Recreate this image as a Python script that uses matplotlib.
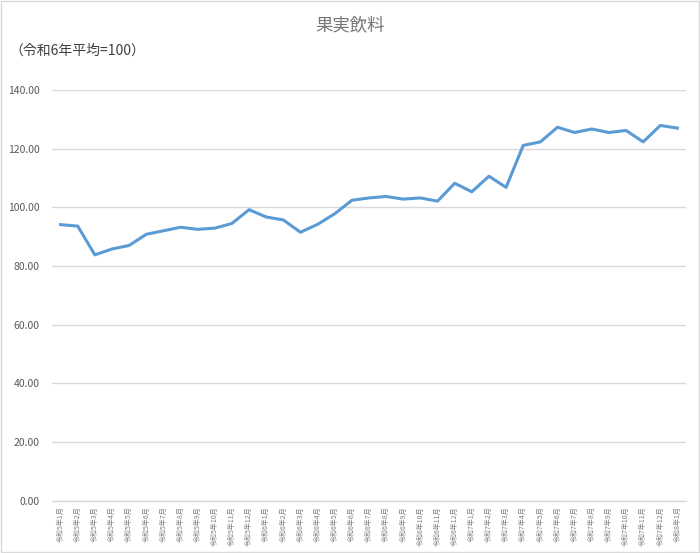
import matplotlib
matplotlib.use("Agg")
import matplotlib.pyplot as plt
from matplotlib.patches import Rectangle

plt.rcParams['font.family'] = ['Noto Sans CJK JP', 'DejaVu Sans']

# 月ラベル（令和5年1月〜令和8年1月）
months = (["令和5年%d月" % m for m in range(1, 13)]
          + ["令和6年%d月" % m for m in range(1, 13)]
          + ["令和7年%d月" % m for m in range(1, 13)]
          + ["令和8年1月"])

values = [94.1, 93.6, 83.8, 85.8, 87.0, 90.8, 92.0, 93.2, 92.5, 92.9, 94.5, 99.2,
          96.7, 95.7, 91.5, 94.2, 97.8, 102.4, 103.2, 103.7, 102.8, 103.2, 102.1, 108.2,
          105.3, 110.6, 106.8, 121.1, 122.3, 127.3, 125.5, 126.7, 125.5, 126.2, 122.3, 127.9,
          127.0]

yticks = [0, 20, 40, 60, 80, 100, 120, 140]

fig = plt.figure(figsize=(7, 5.53), dpi=100)
ax = fig.add_axes([0.0743, 0.0946, 0.9057, 0.7427])

x = list(range(len(months)))
ax.plot(x, values, color='#5B9BD5', linewidth=2.2, solid_joinstyle='round', zorder=3)

ax.set_xlim(-0.5, len(months) - 0.5)
ax.set_ylim(0, 140)
ax.set_yticks(yticks)
ax.set_yticklabels(["%.2f" % v for v in yticks], fontsize=7.5, color='#595959')
ax.set_xticks(x)
ax.set_xticklabels(months, rotation=90, fontsize=5, color='#7F7F7F', va='top', ha='center')
ax.tick_params(axis='both', length=0, pad=4)
ax.tick_params(axis='y', pad=9)

ax.grid(axis='y', color='#D9D9D9', linewidth=1)
ax.set_axisbelow(True)
for s in ['top', 'right', 'left']:
    ax.spines[s].set_visible(False)
ax.spines['bottom'].set_color('#D9D9D9')
ax.spines['bottom'].set_linewidth(1)

fig.text(0.5, 0.955, "果実飲料", ha='center', va='center', fontsize=12.5, color='#757575')
fig.text(0.014, 0.909, "（令和6年平均=100）", ha='left', va='center', fontsize=10, color='#404040')

fig.patches.append(Rectangle((0.001, 0.002), 0.997, 0.996, transform=fig.transFigure,
                             fill=False, edgecolor='#D9D9D9', linewidth=1))

fig.savefig("out.png", dpi=100)
